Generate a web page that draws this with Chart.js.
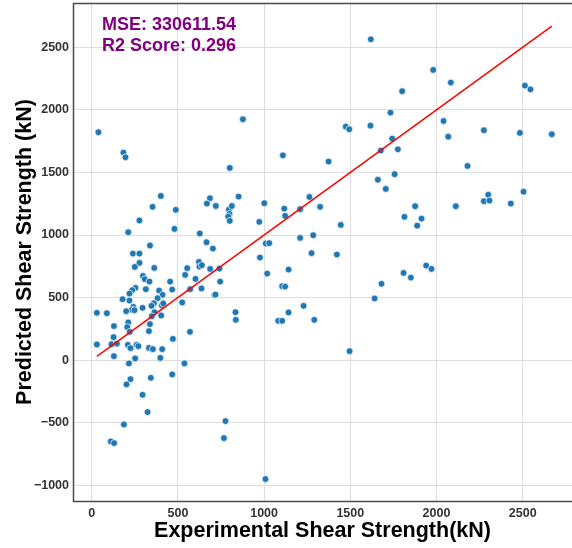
<!DOCTYPE html>
<html>
<head>
<meta charset="utf-8">
<script src="https://cdn.jsdelivr.net/npm/chart.js@4.4.0/dist/chart.umd.min.js"></script>
<style>
  body { margin: 0; background: #fff; }
  #wrap { width: 572px; height: 548px; }
</style>
</head>
<body>
<div id="wrap"><canvas id="myChart" width="572" height="548"></canvas></div>
<script>
// experimental vs predicted shear strength (kN)
var experimental = [39,184,196,401,686,852,801,877,1109,1263,
  1619,1981,2083,1801,1733,2513,2545,1474,1494,1617,2041,2068,2275,2484,2669,1743,1677,1776,1374,2180,1660,1757,1706,2300,2505,
  1209,1325,1445,1209,1285,1275,1422,1814,1876,1913,1888,2112,2275,2307,2431,1940,1971,1809,1851,1681,1641,1229,1291,1496,
  353,488,277,212,480,338,239,277,277,250,363,297,308,335,254,235,219,314,391,411,455,467,382,361,347,407,415,179,219,241,
  233,248,295,200,364,349,403,30,88,129,212,206,221,338,332,127,115,146,30,210,225,260,271,332,355,409,398,129,252,216,
  225,343,467,471,538,570,525,542,554,571,602,637,712,718,745,741,687,622,625,639,703,666,627,668,720,796,813,799,792,801,
  834,836,972,1001,976,1010,1030,1018,1117,1122,1105,1122,1142,1142,1082,1105,
  202,295,324,187,776,767,111,130,1008];
var predicted = [1821,1659,1621,1312,1294,1307,1536,1925,1637,1304,
  2564,2319,2218,2149,1978,2194,2164,1866,1845,1874,1911,1786,1837,1816,1805,1771,1675,1685,1587,1552,1442,1486,1368,1322,1346,
  1206,1225,1081,977,998,855,844,1145,1230,1131,1075,1230,1270,1275,1251,756,729,697,660,610,493,434,322,72,
  1225,1201,1116,1022,1049,916,852,852,777,745,737,673,647,628,578,559,532,567,556,522,628,564,495,455,434,438,453,487,476,426,
  402,399,418,391,383,351,357,378,375,272,301,264,226,288,232,184,128,132,125,122,96,122,112,98,88,88,18,32,14,-26,
  -152,-141,-114,170,-26,226,461,681,735,567,649,573,519,524,628,732,729,785,748,759,892,942,1012,1251,1232,1203,1232,1168,1147,1113,
  383,322,1105,1254,820,932,935,692,1211,1153,591,588,724,381,314,314,
  -194,-277,-415,-514,-487,-623,-650,-663,-950];

var xTicks = [0, 500, 1000, 1500, 2000, 2500];
var yTicks = [-1000, -500, 0, 500, 1000, 1500, 2000, 2500];
var scoreLines = ['MSE: 330611.54', 'R2 Score: 0.296'];

var points = [];
for (var i = 0; i < experimental.length; i++) {
  points.push({x: experimental[i], y: predicted[i]});
}
// ideal y = x line across the experimental range
var lo = Math.min.apply(null, experimental);
var hi = Math.max.apply(null, experimental);
var idealLine = [{x: lo, y: lo}, {x: hi, y: hi}];

var frameColor = '#4a4a4a';
var gridColor = '#dedede';
var tickFont = { family: '"Liberation Sans", Arial, sans-serif', size: 12.5, weight: 'bold' };
var titleFont = { family: '"Liberation Sans", Arial, sans-serif', size: 21.5, weight: 'bold' };

// box around the plot + the score text
var framePlugin = {
  id: 'frame',
  afterDraw: function(chart) {
    var c = chart.ctx, a = chart.chartArea;
    c.save();
    c.strokeStyle = frameColor;
    c.lineWidth = 1.5;
    c.beginPath();
    c.moveTo(a.right + 1, a.top + 0.5);
    c.lineTo(a.left + 0.5, a.top + 0.5);
    c.lineTo(a.left + 0.5, a.bottom + 0.5);
    c.lineTo(a.right + 1, a.bottom + 0.5);
    c.stroke();
    c.fillStyle = '#800080';
    c.font = 'bold 18px "Liberation Sans", Arial, sans-serif';
    c.textBaseline = 'alphabetic';
    c.fillText(scoreLines[0], a.left + 29, 30);
    c.fillText(scoreLines[1], a.left + 29, 51);
    c.restore();
  }
};

function fixedTicks(list) {
  return function(scale) {
    scale.ticks = list.map(function(v) { return {value: v}; });
  };
}

var ctx = document.getElementById('myChart');
var myChart = new Chart(ctx, {
  type: 'scatter',
  data: {
    datasets: [{
      label: 'Predictions',
      data: points,
      backgroundColor: '#1f77b4',
      borderColor: '#ffffff',
      borderWidth: 0.7,
      pointRadius: 3.4,
      order: 1
    }, {
      label: 'Ideal',
      data: idealLine,
      showLine: true,
      borderColor: '#ff0000',
      borderWidth: 1.5,
      pointRadius: 0,
      order: 0
    }]
  },
  plugins: [framePlugin],
  options: {
    responsive: false,
    animation: false,
    layout: { autoPadding: false, padding: { top: 3, right: 0, bottom: 0, left: 0 } },
    plugins: {
      legend: { display: false },
      tooltip: { enabled: false }
    },
    scales: {
      x: {
        type: 'linear',
        min: -108.5,
        max: 2786,
        afterBuildTicks: fixedTicks(xTicks),
        afterFit: function(s) { s.height = 47; s.paddingRight = 0; },
        grid: { color: gridColor, lineWidth: 1, drawTicks: false },
        border: { display: false },
        ticks: {
          padding: 5,
          color: '#333',
          font: tickFont,
          callback: function(v) { return String(v); }
        },
        title: {
          display: true,
          text: 'Experimental Shear Strength(kN)',
          color: '#000',
          padding: { top: 0, bottom: 4 },
          font: titleFont
        }
      },
      y: {
        type: 'linear',
        min: -1125.5,
        max: 2854,
        afterBuildTicks: fixedTicks(yTicks),
        afterFit: function(s) { s.width = 73; s.paddingTop = 0; s.paddingBottom = 0; },
        grid: { color: gridColor, lineWidth: 1, drawTicks: false },
        border: { display: false },
        ticks: {
          padding: 4,
          color: '#333',
          font: tickFont,
          callback: function(v) { return String(v).replace('-', '\u2212'); }
        },
        title: {
          display: true,
          text: 'Predicted Shear Strength (kN)',
          color: '#000',
          padding: { top: 12, bottom: 0 },
          font: titleFont
        }
      }
    }
  }
});
</script>
</body>
</html>
